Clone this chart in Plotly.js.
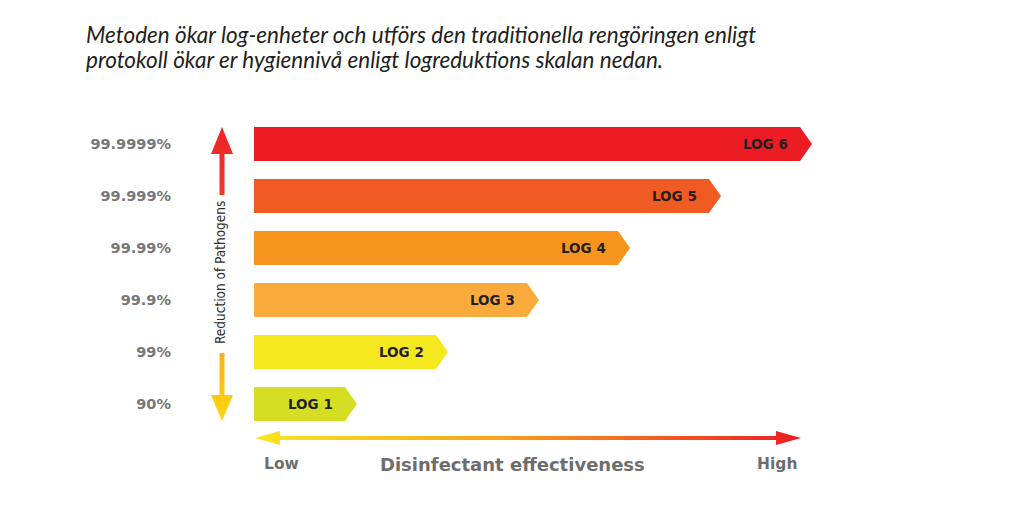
<!DOCTYPE html>
<html>
<head>
<meta charset="utf-8">
<script src="https://cdn.plot.ly/plotly-3.0.1.min.js"></script>
<style>
html,body{margin:0;padding:0;background:#fff;}
#chart{width:1021px;height:511px;}
</style>
</head>
<body>
<div id="chart"></div>
<script>
// ---- data ----
var reductionLabels = ['90%', '99%', '99.9%', '99.99%', '99.999%', '99.9999%'];
var logValues = [1, 2, 3, 4, 5, 6];
var logLabels = ['LOG 1', 'LOG 2', 'LOG 3', 'LOG 4', 'LOG 5', 'LOG 6'];
var barColors = ['#d5de23', '#f6e81f', '#f9ab3b', '#f7941d', '#f05a23', '#ec1c24'];
var titleLines = ['Metoden ökar log-enheter och utförs den traditionella rengöringen enligt',
                  'protokoll ökar er hygiennivå enligt logreduktions skalan nedan.'];
var yTitle = 'Reduction of Pathogens';
var xTitle = 'Disinfectant effectiveness';
var xLow = 'Low', xHigh = 'High';

// ---- layout constants (pixels) ----
var W = 1021, H = 511;
var plotLeft = 254, pxPerUnit = 91;
var plotTop = 118, plotBottom = 430;
var barWidth = 0.654;
var tipPx = 12;

var idx = logValues.map(function (v, i) { return i; });

var traces = [];
traces.push({
  type: 'bar', orientation: 'h',
  x: logValues, y: idx, base: 0,
  width: barWidth,
  marker: {color: barColors, line: {width: 0}},
  hoverinfo: 'skip',
  xaxis: 'x', yaxis: 'y'
});

// arrow tips of bars (shapes in data coordinates)
var shapes = [];
var tipUnits = tipPx / pxPerUnit;
logValues.forEach(function (v, i) {
  var y0 = i - barWidth / 2, y1 = i + barWidth / 2;
  shapes.push({
    type: 'path', xref: 'x', yref: 'y',
    path: 'M' + v + ',' + y0 + ' L' + (v + tipUnits) + ',' + i + ' L' + v + ',' + y1 + ' Z',
    fillcolor: barColors[i], line: {width: 0}, layer: 'above'
  });
});

// decoration helpers on a pixel-space overlay axis pair (x2/y2)
function poly(xs, ys, grad) {
  return {
    type: 'scatter', mode: 'lines', x: xs, y: ys, fill: 'toself',
    line: {width: 0, color: 'rgba(0,0,0,0)'},
    fillgradient: grad, hoverinfo: 'skip', xaxis: 'x2', yaxis: 'y2', showlegend: false
  };
}
// vertical arrow
var ax = 222, sh = 2.5, hw = 11;
traces.push(poly(
  [ax, ax + hw, ax + sh, ax + sh, ax - sh, ax - sh, ax - hw, ax],
  [127, 154, 154, 195, 195, 154, 154, 127],
  {type: 'vertical', start: 127, stop: 195, colorscale: [[0, '#ee2227'], [1, '#ef3a24']]}
));
traces.push(poly(
  [ax - sh, ax + sh, ax + sh, ax + hw, ax, ax - hw, ax - sh, ax - sh],
  [353, 353, 395, 395, 421, 395, 395, 353],
  {type: 'vertical', start: 353, stop: 421, colorscale: [[0, '#f8b21a'], [1, '#fdd60f']]}
));
// horizontal arrow
var hy = 438, hsh = 2, hhw = 7;
traces.push(poly(
  [255, 280, 280, 776, 776, 801, 776, 776, 280, 280, 255],
  [hy, hy - hhw, hy - hsh, hy - hsh, hy - hhw, hy, hy + hhw, hy + hsh, hy + hsh, hy + hhw, hy],
  {type: 'horizontal', start: 255, stop: 801, colorscale: [[0, '#f8e71c'], [0.45, '#f7a21b'], [1, '#ec1c24']]}
));

var annotations = [];
logValues.forEach(function (v, i) {
  annotations.push({
    xref: 'x', yref: 'y', x: v, y: i, text: logLabels[i], showarrow: false,
    xanchor: 'right', yanchor: 'middle', xshift: -10,
    font: {family: 'DejaVu Sans', size: 13.5, color: '#231f20', weight: 'bold'}
  });
});
var titleFont = {family: 'Lato', size: 22.5, style: 'italic', weight: 400, color: '#231f20'};
annotations.push({
  xref: 'x2', yref: 'y2', x: 84, y: 34, xanchor: 'left', yanchor: 'middle', align: 'left',
  text: titleLines[0], showarrow: false, font: titleFont
});
annotations.push({
  xref: 'x2', yref: 'y2', x: 84, y: 59, xanchor: 'left', yanchor: 'middle', align: 'left',
  text: titleLines[1], showarrow: false, font: titleFont
});
annotations.push({
  xref: 'x2', yref: 'y2', x: 220, y: 273, text: yTitle, textangle: -90, showarrow: false,
  font: {family: 'DejaVu Sans Condensed, DejaVu Sans', size: 13.5, color: '#2e2e2e', stretch: 'condensed'}
});
var axisFont = {family: 'DejaVu Sans', size: 15.5, color: '#6d6d6d', weight: 'bold'};
annotations.push({xref: 'x2', yref: 'y2', x: 262, y: 464, xanchor: 'left', text: xLow, showarrow: false, font: axisFont});
annotations.push({xref: 'x2', yref: 'y2', x: 512, y: 464, xanchor: 'center', text: xTitle, showarrow: false,
  font: {family: 'DejaVu Sans', size: 18, color: '#6d6d6d', weight: 'bold'}});
annotations.push({xref: 'x2', yref: 'y2', x: 799, y: 464, xanchor: 'right', text: xHigh, showarrow: false, font: axisFont});

var layout = {
  width: W, height: H,
  margin: {l: 0, r: 0, t: 0, b: 0, pad: 0},
  paper_bgcolor: '#ffffff', plot_bgcolor: 'rgba(0,0,0,0)',
  showlegend: false,
  xaxis: {
    domain: [plotLeft / W, 1], range: [0, (W - plotLeft) / pxPerUnit],
    visible: false, fixedrange: true
  },
  yaxis: {
    domain: [(H - plotBottom) / H, (H - plotTop) / H], range: [-0.5, logValues.length - 0.5],
    tickvals: idx, ticktext: reductionLabels, ticks: '', showgrid: false, zeroline: false,
    showline: false, ticklabelstandoff: 82,
    tickfont: {family: 'DejaVu Sans', size: 14.5, color: '#777777', weight: 'bold'},
    fixedrange: true
  },
  xaxis2: {domain: [0, 1], range: [0, W], visible: false, anchor: 'y2', fixedrange: true},
  yaxis2: {domain: [0, 1], range: [H, 0], visible: false, anchor: 'x2', fixedrange: true},
  shapes: shapes,
  annotations: annotations
};

Plotly.newPlot('chart', traces, layout, {displayModeBar: false, staticPlot: true});
</script>
</body>
</html>
